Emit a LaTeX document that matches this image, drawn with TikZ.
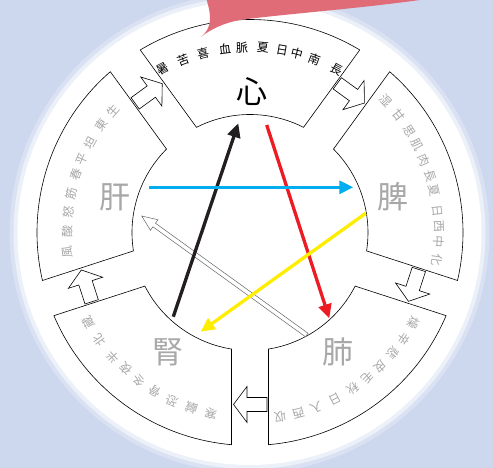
\documentclass[tikz,border=0pt]{standalone}
\usepackage{fontspec}
\newfontfamily\cjk{Noto Sans CJK JP}
\usetikzlibrary{arrows.meta}
\definecolor{bgblue}{RGB}{205,215,238}
\definecolor{bubble}{RGB}{224,108,120}
\definecolor{txtgray}{RGB}{168,168,168}
\definecolor{arrblack}{RGB}{35,31,32}
\definecolor{arrred}{RGB}{237,28,36}
\definecolor{arrblue}{RGB}{0,174,239}
\definecolor{arryellow}{RGB}{255,237,0}
\tikzset{
  sector/.style={draw=black, line width=0.6pt, fill=white},
  smallch/.style={inner sep=0pt, font=\cjk\fontsize{12}{12}\selectfont},
  bigch/.style={inner sep=0pt, font=\cjk\fontsize{31}{31}\selectfont},
  colarrow/.style={line width=3.3pt, -{Triangle[length=14pt,width=13pt]}},
  hollowarrow/.style={draw=gray!80!black, line width=0.5pt, fill=white},
  blockarrow/.pic={\draw[fill=white, line width=0.6pt] (16.5pt,0pt) -- (3pt,18pt) -- (3pt,7pt) -- (-17pt,7pt) -- (-17pt,-7pt) -- (3pt,-7pt) -- (3pt,-18pt) -- cycle;}
}
\begin{document}
\begin{tikzpicture}[x=1pt,y=1pt]
\clip (-250,-235.5) rectangle (243,232.5);
\fill[bgblue] (-250,-235.5) rectangle (243,232.5);
% white disc with soft edge
\fill[white, opacity=0.25] (-0.5,-0.5) circle[radius=240pt];
\fill[white, opacity=0.5] (-0.5,-0.5) circle[radius=236pt];
\fill[white] (-0.5,-0.5) circle[radius=232pt];
% sectors
\foreach \p in {90,18,-54,-126,162} {
  \draw[sector] (\p-31.02:213pt) arc[start angle=\p-31.02, end angle=\p+31.02, radius=213pt]
    -- (\p+26.98:118pt) arc[start angle=\p+26.98, end angle=\p-26.98, radius=118pt] -- cycle;
}
% red bubble (over the sector outline)
\fill[bubble] (-43.3,240) -- (-43.3,232.5) .. controls (-39,218) and (-37,205) .. (-49,195.5)
  .. controls (-40,203) and (-25,210) .. (-10,212.5)
  .. controls (30,218) and (100,223) .. (170,232.5) -- (175,240) -- cycle;
% block arrows in the gaps
\foreach \g in {54,-18,-90,-162,126} {
  \pic[rotate=\g-90] at (\g:172pt) {blockarrow};
}
% organ names
\node[bigch, text=black] (xin) at (2,140.5) {心};
\node[bigch, text=txtgray] (pi) at (143,35.5) {脾};
\node[bigch, text=txtgray] (fei) at (88,-119.5) {肺};
\node[bigch, text=txtgray] (shen) at (-82,-119.5) {腎};
\node[bigch, text=txtgray] (gan) at (-135,35.5) {肝};
% arc texts
\foreach \a/\c [count=\i] in {118/暑,111.2/苦,104.7/喜,97.8/血,92.5/脈,86/夏,80/日,75.3/中,69.4/南,62/長} {
  \node[smallch, text=black, rotate=\a-90] (xt\i) at (\a:185pt) {\c};
}
\foreach \a/\c [count=\i] in {44.2/湿,38.3/甘,32.6/思,27.7/肌,22.6/肉,17.4/長,12.9/夏,6.5/日,2.0/西,-2.9/中,-8.5/化} {
  \node[smallch, text=txtgray, rotate=\a-90] (pt\i) at (\a:189pt) {\c};
}
\foreach \a/\c [count=\i] in {-28.9/燥,-34.7/辛,-40.2/悲,-45.9/皮,-51.1/毛,-56.4/秋,-62.8/日,-69.3/入,-75.0/西,-80.7/収} {
  \node[smallch, text=txtgray, rotate=\a-90] (ft\i) at (\a:187pt) {\c};
}
\foreach \a/\c [count=\i] in {-102.2/寒,-108.4/鹹,-114.7/恐,-120.8/骨,-126.9/冬,-132.3/夜,-137.7/半,-144.4/北,-150.8/蔵} {
  \node[smallch, text=txtgray, rotate=\a-90] (st\i) at (\a:185pt) {\c};
}
\foreach \a/\c [count=\i] in {186.1/風,179.8/酸,173.6/怒,167.6/筋,161.4/春,156.3/平,150.8/坦,144.2/東,138.5/生} {
  \node[smallch, text=txtgray, rotate=\a-90] (gt\i) at (\a:183pt) {\c};
}
% centre arrows
\coordinate (hs) at (56.7,-102.5);
\coordinate (ht) at (-108.3,16.5);
\coordinate (ks) at (-76.7,-84.2);
\coordinate (kt) at (-11.7,109.2);
\coordinate (rs) at (16.7,107.5);
\coordinate (rt) at (79.3,-85.8);
\coordinate (ys) at (115.7,19.2);
\coordinate (yt) at (-49.3,-99.2);
\coordinate (bs) at (-100.7,45.2);
\coordinate (bt) at (103.3,45.2);
\begin{scope}[shift={(hs)}, rotate=144.2]
  \draw[hollowarrow] (0,-2.2) -- (188,-2.2) -- (188,-6.5) -- (203.4,0) -- (188,6.5) -- (188,2.2) -- (0,2.2) -- cycle;
\end{scope}
\draw[colarrow, arrblack] (ks) -- (kt);
\draw[colarrow, arrred] (rs) -- (rt);
\draw[colarrow, arryellow] (ys) -- (yt);
\draw[colarrow, arrblue] (bs) -- (bt);
\end{tikzpicture}
\end{document}
